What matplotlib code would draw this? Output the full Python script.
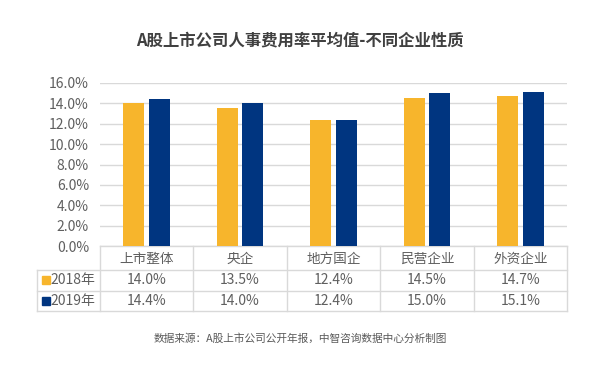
import numpy as np
import matplotlib
matplotlib.use("Agg")
import matplotlib.pyplot as plt

plt.rcParams['font.family'] = ['Noto Sans CJK SC', 'DejaVu Sans']

categories = ['上市整体', '央企', '地方国企', '民营企业', '外资企业']
series_names = ['2018年', '2019年']
values_2018 = [14.0, 13.5, 12.4, 14.5, 14.7]
values_2019 = [14.4, 14.0, 12.4, 15.0, 15.1]
yticks = [0, 2, 4, 6, 8, 10, 12, 14, 16]
colors = ['#F7B52C', '#003580']
title = 'A股上市公司人事费用率平均值-不同企业性质'
source = '数据来源：A股上市公司公开年报，中智咨询数据中心分析制图'

W, H = 600, 366
fig = plt.figure(figsize=(W / 100, H / 100), dpi=100)
ax = fig.add_axes([100 / W, (H - 246) / H, 467 / W, 163 / H])

n = len(categories)
x = np.arange(n)
bw = 0.225
gap = 0.05
ax.bar(x - (bw + gap) / 2, values_2018, bw, color=colors[0], zorder=3)
ax.bar(x + (bw + gap) / 2, values_2019, bw, color=colors[1], zorder=3)

ax.set_xlim(-0.5, n - 0.5)
ax.set_ylim(0, 16)
ax.set_yticks(yticks)
ax.set_yticklabels([f'{t:.1f}%' for t in yticks], color='#5f5f5f', fontsize=10)
ax.tick_params(axis='y', length=0, pad=8)
ax.set_xticks([])
ax.grid(axis='y', color='#d9d9d9', linewidth=1, zorder=0)
for s in ax.spines.values():
    s.set_visible(False)

# data table under the plot, in axes coordinates
line_c = '#d9d9d9'
def ay(py):
    return (246 - py) / 163
def axx(px):
    return (px - 100) / 467

tk = dict(transform=ax.transAxes, clip_on=False)
ax.plot([0, 1], [0, 0], color=line_c, lw=1, **tk)
for py in [270, 291, 311]:
    ax.plot([axx(37), 1], [ay(py), ay(py)], color=line_c, lw=1, **tk)
for i in range(n + 1):
    xv = i / n
    ax.plot([xv, xv], [0, ay(311)], color=line_c, lw=1, **tk)
ax.plot([axx(37), axx(37)], [ay(270), ay(311)], color=line_c, lw=1, **tk)

txt = '#5f5f5f'
for i, c in enumerate(categories):
    ax.text((i + 0.5) / n, ay(259), c, ha='center', va='center', fontsize=9.8, color=txt, **tk)
rows = [values_2018, values_2019]
row_y = [280, 301]
for r, (vals, name, col) in enumerate(zip(rows, series_names, colors)):
    for i, v in enumerate(vals):
        ax.text((i + 0.5) / n, ay(row_y[r]), f'{v:.1f}%', ha='center', va='center',
                fontsize=10, color=txt, **tk)
    ax.plot([axx(46)], [ay(row_y[r])], marker='s', markersize=5.5, color=col,
            linestyle='none', **tk)
    ax.text(axx(50), ay(row_y[r]), name, ha='left', va='center', fontsize=10, color=txt, **tk)

fig.text(0.5, 1 - 40 / H, title, ha='center', va='center', fontsize=11.8,
         fontweight='bold', color='#404040')
fig.text(0.5, 1 - 339 / H, source, ha='center', va='center', fontsize=7.7, color='#595959')

fig.savefig('out.png', dpi=100, facecolor='white')
